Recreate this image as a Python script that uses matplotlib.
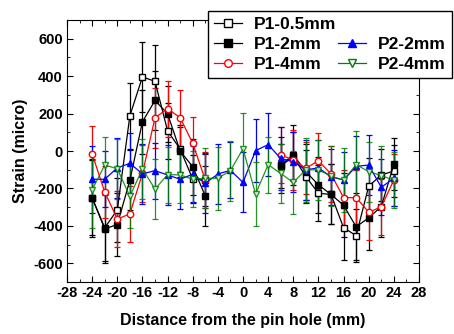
import matplotlib
matplotlib.use("Agg")
import matplotlib.pyplot as plt
from matplotlib.lines import Line2D
from matplotlib.ticker import MultipleLocator

plt.rcParams['font.family'] = ['Liberation Sans', 'DejaVu Sans']
plt.rcParams['font.weight'] = 'bold'
plt.rcParams['axes.unicode_minus'] = False

# P1 series are measured away from the hole only
x_p1 = [-24, -22, -20, -18, -16, -14, -12, -10, -8, -6,
        6, 8, 10, 12, 14, 16, 18, 20, 22, 24]
p1_05 = [-250, -410, -315, 188, 396, 372, 108, 10, -150, -155,
         -80, -30, -137, -226, -232, -410, -452, -188, -128, -107]
p1_05_err = [200, 180, 170, 175, 185, 193, 150, 120, 130, 140,
             120, 130, 140, 150, 160, 170, 140, 150, 140, 140]
p1_2 = [-251, -416, -393, -157, 156, 270, 199, 0, -84, -240,
        -75, -21, -110, -181, -232, -290, -405, -357, -297, -71]
p1_2_err = [206, 183, 170, 160, 170, 160, 150, 140, 150, 160,
            150, 160, 150, 150, 160, 170, 180, 170, 160, 140]
p1_4 = [-16, -219, -364, -336, -120, 178, 226, 178, 41, -155,
        -21, -48, -92, -52, -123, -249, -249, -327, -299, -155]
p1_4_err = [150, 140, 150, 150, 150, 160, 150, 150, 140, 150,
            150, 160, 140, 150, 150, 150, 150, 150, 150, 140]

x_p2 = [-24, -22, -20, -18, -16, -14, -12, -10, -8, -6, -4, -2, 0,
        2, 4, 6, 8, 10, 12, 14, 16, 18, 20, 22, 24]
p2_2 = [-151, -151, -90, -66, -122, -105, -128, -151, -124, -172, -123, -103, -168,
        2, 34, -40, -57, -101, -90, -138, -155, -82, -75, -194, -146]
p2_2_err = [180, 150, 160, 160, 160, 150, 160, 160, 150, 160, 160, 150, 160,
            170, 170, 170, 160, 160, 150, 150, 150, 160, 160, 150, 150]
p2_4 = [-208, -75, -95, -242, -95, -204, -126, -128, -151, -146, -146, -105, 12,
        -230, -73, -120, -168, -100, -101, -134, -155, -73, -110, -131, -156]
p2_4_err = [205, 148, 160, 170, 160, 160, 150, 150, 150, 160, 170, 160, 190,
            170, 150, 160, 170, 170, 160, 160, 170, 180, 160, 160, 150]

fig = plt.figure(figsize=(4.54, 3.34), dpi=100)
ax = fig.add_axes([0.1476, 0.1557, 0.7753, 0.7844])

eb = dict(capsize=2.3, elinewidth=0.9, capthick=0.9, lw=0.9, ms=4.6)
series = [
    (x_p1, p1_05, p1_05_err, 'black', 's', 'white', 1.0),
    (x_p1, p1_2, p1_2_err, 'black', 's', 'black', 1.0),
    (x_p1, p1_4, p1_4_err, 'red', 'o', 'white', 1.0),
]
for xs, ys, es, c, m, fc, a in series:
    # left and right of the hole are separate runs
    ax.errorbar(xs[:10], ys[:10], yerr=es[:10], color=c, marker=m, mfc=fc, alpha=a, **eb)
    ax.errorbar(xs[10:], ys[10:], yerr=es[10:], color=c, marker=m, mfc=fc, alpha=a, **eb)
ax.errorbar(x_p2, p2_2, yerr=p2_2_err, color='blue', marker='^', **eb)
ax.errorbar(x_p2, p2_4, yerr=p2_4_err, color='green', marker='v', mfc='white', alpha=0.85, **eb)

ax.set_xlim(-28, 28)
ax.set_ylim(-700, 700)
ax.xaxis.set_major_locator(MultipleLocator(4))
ax.xaxis.set_minor_locator(MultipleLocator(2))
ax.yaxis.set_major_locator(MultipleLocator(200))
ax.yaxis.set_minor_locator(MultipleLocator(100))
ax.tick_params(which='both', direction='in', top=True, right=True, labelsize=10.5, pad=3)
ax.tick_params(which='major', length=4.5)
ax.tick_params(which='minor', length=2.5)
for lbl in ax.get_xticklabels() + ax.get_yticklabels():
    lbl.set_fontweight('bold')

ax.set_xlabel('Distance from the pin hole (mm)', fontsize=11.5, fontweight='bold', labelpad=9)
ax.set_ylabel('Strain (micro)', fontsize=11.5, fontweight='bold', labelpad=4)

def handle(c, m, fc):
    return Line2D([], [], color=c, marker=m, mfc=fc, lw=0.9, ms=5.5)

handles = [handle('black', 's', 'white'), handle('black', 's', 'black'),
           handle('red', 'o', 'white'), Line2D([], [], color='none'),
           handle('blue', '^', 'blue'), handle('green', 'v', 'white')]
labels = ['P1-0.5mm', 'P1-2mm', 'P1-4mm', '', 'P2-2mm', 'P2-4mm']
leg = fig.legend(handles, labels, ncol=2, loc='upper left', bbox_to_anchor=(0.458, 0.967),
                 fancybox=False, edgecolor='black', framealpha=1,
                 handlelength=1.6, handletextpad=0.7, columnspacing=0.1, labelspacing=0.28,
                 borderpad=0.35, borderaxespad=0, prop={'weight': 'bold', 'size': 12.5})
leg.get_frame().set_linewidth(1)

fig.savefig('out.png', dpi=100)
